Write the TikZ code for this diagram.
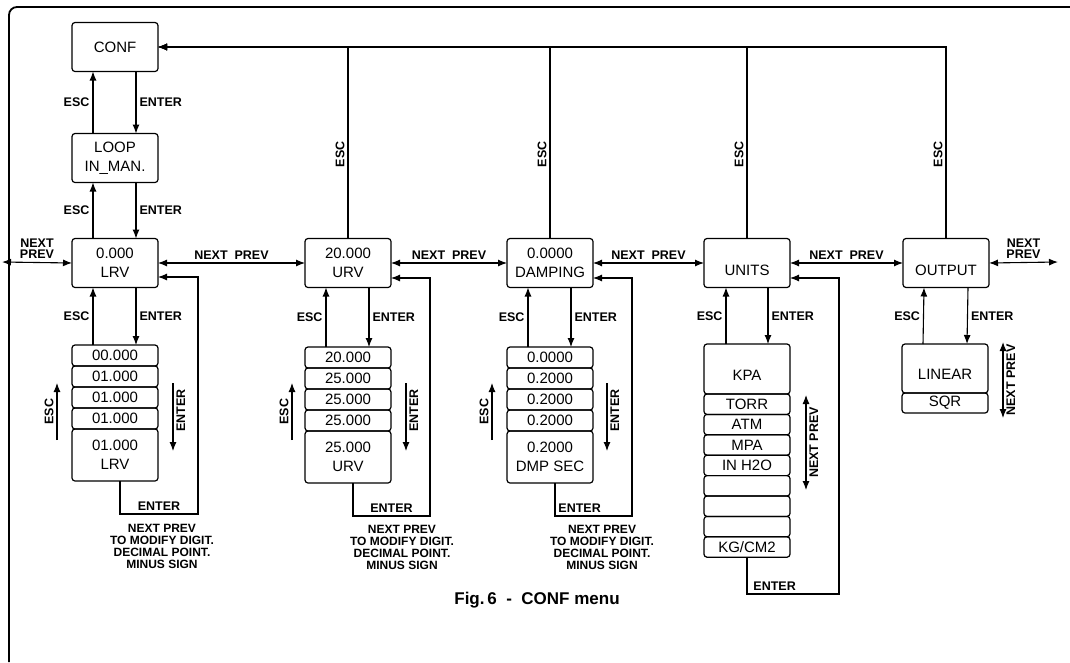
\documentclass[tikz,border=0pt]{standalone}
\usepackage{fontspec}
\setmainfont{Liberation Sans}
\usetikzlibrary{arrows.meta,positioning,calc}

\begin{document}
\begin{tikzpicture}[
    x=1pt, y=-1pt,
    >={Latex[length=9pt,width=7pt]},
    menubox/.style={rectangle, draw, line width=1.2pt, rounded corners=3pt, minimum width=86pt, minimum height=49pt, inner sep=1pt, outer sep=0pt, align=center, font=\fontsize{15}{19}\selectfont},
    stackbox/.style={rectangle, draw, line width=1.2pt, rounded corners=3pt, minimum width=86pt, minimum height=21pt, inner sep=0pt, outer sep=0pt, align=center, font=\fontsize{15}{19}\selectfont},
    line/.style={draw, ->, line width=1.1pt},
    key/.style={font=\fontsize{12.5}{11.5}\selectfont\bfseries, inner sep=3pt},
    note/.style={font=\fontsize{12}{12}\selectfont\bfseries, align=center}
]
\useasboundingbox (0,0) rectangle (1070,662);

% frame
\draw [line width=1.8pt, rounded corners=8pt] (9,662) -- (9,7) -- (1070,7);

% main row
\node [menubox] (conf) at (115,47) {CONF};
\node [menubox] (loop) at (115,158) {LOOP\\IN\_MAN.};
\node [menubox] (lrv) at (115,263) {0.000\\LRV};
\node [menubox] (urv) at (348,263) {20.000\\URV};
\node [menubox] (dmp) at (550,263) {0.0000\\DAMPING};
\node [menubox] (units) at (747,263) {\rule{0pt}{25pt}UNITS};
\node [menubox] (output) at (946,263) {\rule{0pt}{25pt}OUTPUT};

% LRV stack
\node [stackbox] (lrva) at (115,355.5) {00.000};
\node [stackbox, below=0pt of lrva] (lrvb) {01.000};
\node [stackbox, below=0pt of lrvb] (lrvc) {01.000};
\node [stackbox, below=0pt of lrvc] (lrvd) {01.000};
\node [stackbox, minimum height=52pt, below=0pt of lrvd] (lrve) {01.000\\LRV};

% URV stack
\node [stackbox] (urva) at (348,357.5) {20.000};
\node [stackbox, below=0pt of urva] (urvb) {25.000};
\node [stackbox, below=0pt of urvb] (urvc) {25.000};
\node [stackbox, below=0pt of urvc] (urvd) {25.000};
\node [stackbox, minimum height=52pt, below=0pt of urvd] (urve) {25.000\\URV};

% DAMPING stack
\node [stackbox] (dmpa) at (550,357.5) {0.0000};
\node [stackbox, below=0pt of dmpa] (dmpb) {0.2000};
\node [stackbox, below=0pt of dmpb] (dmpc) {0.2000};
\node [stackbox, below=0pt of dmpc] (dmpd) {0.2000};
\node [stackbox, minimum height=52pt, below=0pt of dmpd] (dmpe) {0.2000\\DMP SEC};

% UNITS stack
\node [stackbox, minimum height=50pt] (kpa) at (747,369) {\rule{0pt}{22pt}KPA};
\node [stackbox, minimum height=20.4pt, below=0pt of kpa] (torr) {TORR};
\node [stackbox, minimum height=20.4pt, below=0pt of torr] (atm) {ATM};
\node [stackbox, minimum height=20.4pt, below=0pt of atm] (mpa) {MPA};
\node [stackbox, minimum height=20.4pt, below=0pt of mpa] (inhtwo) {IN H2O};
\node [stackbox, minimum height=20.4pt, below=0pt of inhtwo] (blanka) {};
\node [stackbox, minimum height=20.4pt, below=0pt of blanka] (blankb) {};
\node [stackbox, minimum height=20.4pt, below=0pt of blankb] (blankc) {};
\node [stackbox, minimum height=20.4pt, below=0pt of blankc] (kgcm) {KG/CM2};

% OUTPUT stack
\node [stackbox, minimum height=49pt] (linear) at (945,368.5) {\rule{0pt}{22pt}LINEAR};
\node [stackbox, minimum height=20pt, below=0pt of linear] (sqr) {SQR};

% free ends
\coordinate (leftend) at (2,262);
\coordinate (rightend) at (1058,262);
\coordinate (lrvescbot) at (57,440);
\coordinate (lrvesctop) at (57,383);
\coordinate (lrventtop) at (173,383);
\coordinate (lrventbot) at (173,451);
\coordinate (lrvloop) at (198,514);
\coordinate (urvescbot) at (292,440);
\coordinate (urvesctop) at (292,383);
\coordinate (urventtop) at (406,383);
\coordinate (urventbot) at (406,451);
\coordinate (urvloop) at (430,516);
\coordinate (dmpescbot) at (492,440);
\coordinate (dmpesctop) at (492,383);
\coordinate (dmpenttop) at (607,383);
\coordinate (dmpentbot) at (607,451);
\coordinate (dmploop) at (632,516);
\coordinate (unitstop) at (806,395);
\coordinate (unitsbot) at (806,490);
\coordinate (unitsloop) at (839,594);
\coordinate (outtop) at (1003,342);
\coordinate (outbot) at (1003,418);

% CONF / LOOP / LRV
\path [line] ([xshift=-22pt]loop.north) -- node[key, left] {ESC} ([xshift=-22pt]conf.south);
\path [line] ([xshift=21pt]conf.south) -- node[key, right] {ENTER} ([xshift=21pt]loop.north);
\path [line] ([xshift=-22pt]lrv.north) -- node[key, left] {ESC} ([xshift=-22pt]loop.south);
\path [line] ([xshift=21pt]loop.south) -- node[key, right] {ENTER} ([xshift=21pt]lrv.north);

% ESC back to CONF
\path [line] (output.north) |- node[key, pos=0.22, rotate=90, anchor=south] {ESC} (conf.east);
\path [line] (units.north) |- node[key, pos=0.22, rotate=90, anchor=south] {ESC} (conf.east);
\path [line] (dmp.north) |- node[key, pos=0.22, rotate=90, anchor=south] {ESC} (conf.east);
\path [line] (urv.north) |- node[key, pos=0.22, rotate=90, anchor=south] {ESC} (conf.east);

% NEXT PREV row
\path [line, <->] (leftend) -- node[key, above, align=center] {NEXT\\PREV} (lrv.west);
\path [line, <->] (lrv.east) -- node[key, above] {NEXT~~PREV} (urv.west);
\path [line, <->] (urv.east) -- node[key, above] {NEXT~~PREV} (dmp.west);
\path [line, <->] (dmp.east) -- node[key, above] {NEXT~~PREV} (units.west);
\path [line, <->] (units.east) -- node[key, above] {NEXT~~PREV} (output.west);
\path [line, <->] (output.east) -- node[key, above, align=center] {NEXT\\PREV} (rightend);

% LRV column
\path [line] ([xshift=-22pt]lrva.north) -- node[key, left] {ESC} ([xshift=-22pt]lrv.south);
\path [line] ([xshift=21pt]lrv.south) -- node[key, right] {ENTER} ([xshift=21pt]lrva.north);
\path [line] (lrvescbot) -- node[key, rotate=90, anchor=south] {ESC} (lrvesctop);
\path [line] (lrventtop) -- node[key, pos=0.4, rotate=90, anchor=north] {ENTER} (lrventbot);
\path [line] ([xshift=5pt]lrve.south) |- node[key, pos=0.75, above] {ENTER} (lrvloop) |- ([yshift=-14pt]lrv.east);
\node [note] (lrvnote) at (162,546) {NEXT PREV\\TO MODIFY DIGIT.\\DECIMAL POINT.\\MINUS SIGN};

% URV column
\path [line] ([xshift=-22pt]urva.north) -- node[key, left] {ESC} ([xshift=-22pt]urv.south);
\path [line] ([xshift=21pt]urv.south) -- node[key, right] {ENTER} ([xshift=21pt]urva.north);
\path [line] (urvescbot) -- node[key, rotate=90, anchor=south] {ESC} (urvesctop);
\path [line] (urventtop) -- node[key, pos=0.4, rotate=90, anchor=north] {ENTER} (urventbot);
\path [line] ([xshift=5pt]urve.south) |- node[key, pos=0.75, above] {ENTER} (urvloop) |- ([yshift=-15pt]urv.east);
\node [note] (urvnote) at (402,547) {NEXT PREV\\TO MODIFY DIGIT.\\DECIMAL POINT.\\MINUS SIGN};

% DAMPING column
\path [line] ([xshift=-22pt]dmpa.north) -- node[key, left] {ESC} ([xshift=-22pt]dmp.south);
\path [line] ([xshift=21pt]dmp.south) -- node[key, right] {ENTER} ([xshift=21pt]dmpa.north);
\path [line] (dmpescbot) -- node[key, rotate=90, anchor=south] {ESC} (dmpesctop);
\path [line] (dmpenttop) -- node[key, pos=0.4, rotate=90, anchor=north] {ENTER} (dmpentbot);
\path [line] ([xshift=5pt]dmpe.south) |- node[key, pos=0.66, above] {ENTER} (dmploop) |- ([yshift=-15pt]dmp.east);
\node [note] (dmpnote) at (602,547) {NEXT PREV\\TO MODIFY DIGIT.\\DECIMAL POINT.\\MINUS SIGN};

% UNITS column
\path [line] ([xshift=-21pt]kpa.north) -- node[key, left] {ESC} ([xshift=-21pt]units.south);
\path [line] ([xshift=21pt]units.south) -- node[key, right] {ENTER} ([xshift=21pt]kpa.north);
\path [line, <->] (unitstop) -- node[key, rotate=90, anchor=north] {NEXT PREV} (unitsbot);
\path [line] (kgcm.south) |- node[key, pos=0.65, above] {ENTER} (unitsloop) |- ([yshift=-15pt]units.east);

% OUTPUT column
\path [line] ([xshift=-22pt]linear.north) -- node[key, left] {ESC} ([xshift=-22pt]output.south);
\path [line] ([xshift=22pt]output.south) -- node[key, right] {ENTER} ([xshift=22pt]linear.north);
\path [line, <->] (outtop) -- node[key, rotate=90, anchor=north] {NEXT PREV} (outbot);

\node [font=\fontsize{17}{20}\selectfont\bfseries] (caption) at (537,600) {Fig.\,6 \ - \ CONF menu};

\end{tikzpicture}
\end{document}
